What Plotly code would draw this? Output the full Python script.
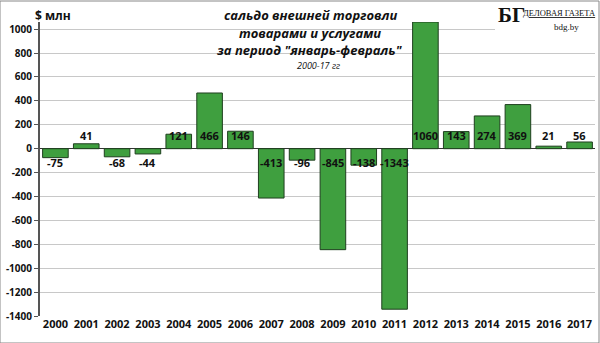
import plotly.graph_objects as go

years = [str(y) for y in range(2000, 2018)]
values = [-75, 41, -68, -44, 121, 466, 146, -413, -96, -845, -138, -1343, 1060, 143, 274, 369, 21, 56]
y_ticks = [1000, 800, 600, 400, 200, 0, -200, -400, -600, -800, -1000, -1200, -1400]

FONT = "Open Sans"

fig = go.Figure()
fig.add_trace(go.Bar(
    x=years, y=values,
    marker=dict(color="#3f9f3f", line=dict(color="#1f3f1f", width=1)),
    hoverinfo="skip",
))

for i, v in enumerate(values):
    fig.add_annotation(x=i, y=0, xref="x", yref="y", text="<b>%d</b>" % v,
                       showarrow=False, yshift=13 if v >= 0 else -14,
                       font=dict(family=FONT, size=11, color="#111111"))

fig.update_layout(
    width=600, height=343,
    margin=dict(l=40, r=5, t=22, b=27),
    paper_bgcolor="white", plot_bgcolor="white",
    showlegend=False,
    bargap=0.17,
    font=dict(family=FONT, color="#111111"),
    xaxis=dict(
        type="category",
        range=[-0.5, len(years) - 0.5],
        tickfont=dict(family=FONT, size=11, weight="bold"),
        showgrid=False, showline=False, ticks="",
    ),
    yaxis=dict(
        range=[-1400, 1060],
        tickvals=y_ticks,
        ticktext=[str(t) for t in y_ticks],
        tickfont=dict(family=FONT, size=10, weight="bold"),
        showgrid=True, gridcolor="#c8c8c8", gridwidth=1,
        zeroline=True, zerolinecolor="#333333", zerolinewidth=1,
        showline=True, linecolor="#555555", linewidth=2,
        ticks="outside", ticklen=4, tickcolor="#555555",
    ),
    shapes=[dict(type="rect", xref="paper", yref="paper", x0=-40/555, x1=1 + 4/555,
                 y0=-27/294, y1=1 + 21/294, line=dict(color="#888888", width=1))],
)

title_lines = [
    ("сальдо внешней торговли", 15),
    ("товарами и услугами", 33),
    ("за период \"январь-февраль\"", 50),
]
for txt, ypx in title_lines:
    fig.add_annotation(xref="paper", yref="paper", x=(310 - 40) / 555, y=1 - (ypx - 22) / 294,
                       text="<b><i>" + txt + "</i></b>", showarrow=False,
                       font=dict(family=FONT, size=13, color="#111111"), yanchor="middle")
fig.add_annotation(xref="paper", yref="paper", x=(318 - 40) / 555, y=1 - (66 - 22) / 294,
                   text="<i>2000-17 гг</i>", showarrow=False,
                   font=dict(family=FONT, size=9, color="#111111"), yanchor="middle")

fig.add_annotation(xref="paper", yref="paper", x=(33 - 40) / 555, y=1 - (15 - 22) / 294,
                   text="<b>$ млн</b>", showarrow=False, xanchor="left",
                   font=dict(family=FONT, size=12, color="#111111"), yanchor="middle")

# logo
fig.add_shape(type="rect", xref="paper", yref="paper", x0=(495 - 40) / 555, x1=1 + 3 / 555,
              y0=1 - (33 - 22) / 294, y1=1 + 20 / 294, fillcolor="white", line=dict(width=0),
              layer="above")
fig.add_annotation(xref="paper", yref="paper", x=(496 - 40) / 555, y=1 - (15 - 22) / 294,
                   text="<b>БГ</b>", showarrow=False, xanchor="left", yanchor="middle",
                   font=dict(family="Liberation Serif", size=21, color="#111111"))
fig.add_annotation(xref="paper", yref="paper", x=(521 - 40) / 555, y=1 - (13 - 22) / 294,
                   text="<u>ДЕЛОВАЯ ГАЗЕТА</u>", showarrow=False, xanchor="left", yanchor="middle",
                   font=dict(family="Liberation Serif", size=8.5, color="#111111"))
fig.add_annotation(xref="paper", yref="paper", x=(566 - 40) / 555, y=1 - (27 - 22) / 294,
                   text="bdg.by", showarrow=False, xanchor="center", yanchor="middle",
                   font=dict(family="Liberation Serif", size=9, color="#111111"))

fig.write_html("out.html")
